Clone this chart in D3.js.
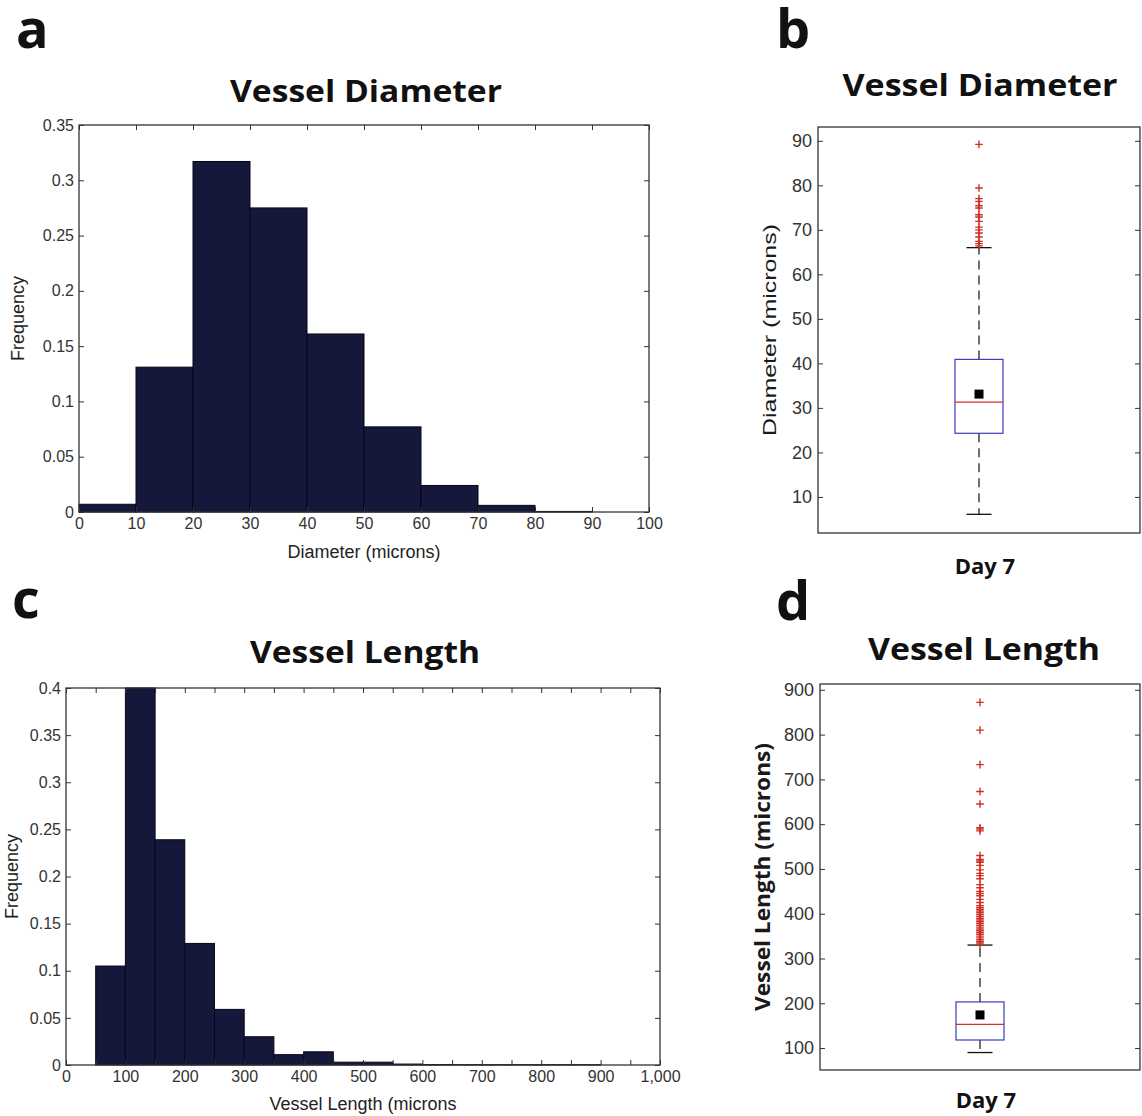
<!DOCTYPE html>
<html>
<head>
<meta charset="utf-8">
<script src="https://cdn.jsdelivr.net/npm/d3@7"></script>
<style>
  body { margin: 0; background: #fff; }
  svg { display: block; }
  text { font-family: "Liberation Sans", Arial, Helvetica, sans-serif; }
  .heavy { font-family: "Open Sans", "DejaVu Sans", sans-serif; font-weight: 700; }
</style>
</head>
<body>
<svg id="fig" width="1142" height="1116"></svg>
<script>
// ---- Vessel diameter histogram (bins of 10 microns) ----
const diameterBinEdges = [0, 10, 20, 30, 40, 50, 60, 70, 80, 90, 100];
const diameterFreq = [0.007, 0.131, 0.317, 0.275, 0.161, 0.077, 0.024, 0.006, 0.0005, 0];
const diameterXTicks = [0, 10, 20, 30, 40, 50, 60, 70, 80, 90, 100];
const diameterYTicks = [0, 0.05, 0.1, 0.15, 0.2, 0.25, 0.3, 0.35];

// ---- Vessel length histogram (bins of 50 microns) ----
const lengthBinEdges = [50, 100, 150, 200, 250, 300, 350, 400, 450, 500, 550, 600, 650, 700, 750, 800, 850, 900];
const lengthFreq = [0.105, 0.400, 0.239, 0.129, 0.059, 0.030, 0.011, 0.014, 0.003, 0.003, 0.001, 0.0005, 0.0003, 0.0003, 0.0003, 0.0003, 0.0003];
const lengthXTicks = d3.range(0, 1001, 50);
const lengthXLabels = [0, 100, 200, 300, 400, 500, 600, 700, 800, 900, 1000];
const lengthYTicks = [0, 0.05, 0.1, 0.15, 0.2, 0.25, 0.3, 0.35, 0.4];

// ---- Diameter box plot, Day 7: [lower whisker, Q1, median, Q3, upper whisker] ----
const diameterBox = [6.1, 24.3, 31.3, 40.9, 66.0];
const diameterMean = 33.1;
const diameterOutliers = [66.4, 66.9, 67.4, 68.4, 69.3, 70.0, 70.6, 71.9, 72.9, 73.4, 74.9, 75.4, 76.4, 77.0, 79.4, 89.2];
const diameterBoxTicks = [10, 20, 30, 40, 50, 60, 70, 80, 90];

// ---- Length box plot, Day 7 ----
const lengthBox = [90, 118, 153, 203, 330];
const lengthMean = 174;
const lengthOutliers = [332, 335, 338, 342, 346, 350, 354, 358, 362, 366, 370, 374, 378, 382, 386, 390,
  394, 398, 402, 406, 410, 414, 418, 425, 432, 440, 445, 450, 458, 465, 478, 485, 490, 498, 508,
  515, 518, 521, 530, 585, 589, 592, 645, 673, 733, 810, 872];
const lengthBoxTicks = [100, 200, 300, 400, 500, 600, 700, 800, 900];

const groupLabel = ["Day 7"];

const svg = d3.select("#fig");
svg.append("rect").attr("width", 1142).attr("height", 1116).attr("fill", "#fff");

const AXIS = "#333";
const BAR = "#15183b";
const TICK = 5;

function panelLetter(txt, x, y) {
  svg.append("text").attr("class", "heavy").attr("x", x).attr("y", y)
    .attr("font-size", 54).attr("fill", "#111").text(txt);
}
function title(txt, cx, y, w) {
  svg.append("text").attr("class", "heavy").attr("x", cx).attr("y", y)
    .attr("text-anchor", "middle").attr("font-size", 31).attr("fill", "#111")
    .attr("textLength", w).attr("lengthAdjust", "spacingAndGlyphs").text(txt);
}

function styleAxis(g, size) {
  g.select(".domain").remove();
  g.selectAll(".tick line").attr("stroke", AXIS).attr("stroke-width", 1);
  g.selectAll(".tick text").attr("fill", "#333").attr("font-size", size)
    .attr("font-family", "'Liberation Sans', Arial, sans-serif");
}

function frame(box) {
  svg.append("rect").attr("x", box.x0).attr("y", box.y0)
    .attr("width", box.x1 - box.x0).attr("height", box.y1 - box.y0)
    .attr("fill", "none").attr("stroke", AXIS).attr("stroke-width", 1.3);
}

function histogram(box, edges, freq, xDom, yDom, xTicks, xLabelSet, xFmt, yTicks, xLabel, yLabel, xLabelY, yLabelX) {
  const x = d3.scaleLinear().domain(xDom).range([box.x0, box.x1]);
  const y = d3.scaleLinear().domain(yDom).range([box.y1, box.y0]);
  const g = svg.append("g");
  const bins = freq.map((f, i) => ({ a: edges[i], b: edges[i + 1], f }));
  g.selectAll("rect").data(bins.filter(d => d.f > 0)).join("rect")
    .attr("x", d => x(d.a)).attr("width", d => x(d.b) - x(d.a))
    .attr("y", d => y(Math.min(d.f, yDom[1]))).attr("height", d => y(0) - y(Math.min(d.f, yDom[1])))
    .attr("fill", BAR).attr("stroke", "#07071a").attr("stroke-width", 1);

  const lbl = v => xLabelSet.includes(v) ? xFmt(v) : "";
  const yFmt = v => String(+v.toFixed(2));
  const bx = svg.append("g").attr("transform", `translate(0,${box.y1})`)
    .call(d3.axisBottom(x).tickValues(xTicks).tickFormat(lbl).tickSizeInner(-TICK).tickSizeOuter(0).tickPadding(6));
  styleAxis(bx, 16);
  const tx = svg.append("g").attr("transform", `translate(0,${box.y0})`)
    .call(d3.axisTop(x).tickValues(xTicks).tickFormat("").tickSizeInner(-TICK).tickSizeOuter(0));
  styleAxis(tx, 16);
  const ly = svg.append("g").attr("transform", `translate(${box.x0},0)`)
    .call(d3.axisLeft(y).tickValues(yTicks).tickFormat(yFmt).tickSizeInner(-TICK).tickSizeOuter(0).tickPadding(5));
  styleAxis(ly, 16);
  const ry = svg.append("g").attr("transform", `translate(${box.x1},0)`)
    .call(d3.axisRight(y).tickValues(yTicks).tickFormat("").tickSizeInner(-TICK).tickSizeOuter(0));
  styleAxis(ry, 16);
  frame(box);

  svg.append("text").attr("x", (box.x0 + box.x1) / 2).attr("y", xLabelY)
    .attr("text-anchor", "middle").attr("font-size", 18).attr("fill", "#222").text(xLabel);
  svg.append("text").attr("transform", `translate(${yLabelX},${(box.y0 + box.y1) / 2}) rotate(-90)`)
    .attr("text-anchor", "middle").attr("font-size", 18).attr("fill", "#222").text(yLabel);
}

function boxplot(box, yDom, stats, mean, outliers, yTicks, yLabel, yLabelOpts, catY) {
  const y = d3.scaleLinear().domain(yDom).range([box.y1, box.y0]);
  const xc = d3.scaleBand().domain(groupLabel).range([box.x0, box.x1]);
  const cx = xc(groupLabel[0]) + xc.bandwidth() / 2;
  const half = 24, cap = 12.5;
  const [lo, q1, med, q3, hi] = stats;
  const g = svg.append("g");

  // whiskers
  g.append("line").attr("x1", cx).attr("x2", cx).attr("y1", y(q3)).attr("y2", y(hi))
    .attr("stroke", "#111").attr("stroke-width", 1.2).attr("stroke-dasharray", "9,6");
  g.append("line").attr("x1", cx).attr("x2", cx).attr("y1", y(q1)).attr("y2", y(lo))
    .attr("stroke", "#111").attr("stroke-width", 1.2).attr("stroke-dasharray", "9,6");
  [lo, hi].forEach(v => g.append("line").attr("x1", cx - cap).attr("x2", cx + cap)
    .attr("y1", y(v)).attr("y2", y(v)).attr("stroke", "#111").attr("stroke-width", 1.3));
  // box and median
  g.append("rect").attr("x", cx - half).attr("width", 2 * half)
    .attr("y", y(q3)).attr("height", y(q1) - y(q3))
    .attr("fill", "none").attr("stroke", "#3b3bc4").attr("stroke-width", 1.2);
  g.append("line").attr("x1", cx - half).attr("x2", cx + half).attr("y1", y(med)).attr("y2", y(med))
    .attr("stroke", "#d2332a").attr("stroke-width", 1.2);
  // outliers
  const s = 3.8;
  g.selectAll("path.out").data(outliers).join("path").attr("class", "out")
    .attr("d", v => `M${cx - s},${y(v)}H${cx + s}M${cx},${y(v) - s}V${y(v) + s}`)
    .attr("stroke", "#cf2f22").attr("stroke-width", 1.4).attr("fill", "none");
  // mean marker
  g.append("rect").attr("x", cx - 4.5).attr("y", y(mean) - 4.5).attr("width", 9).attr("height", 9).attr("fill", "#000");

  const ly = svg.append("g").attr("transform", `translate(${box.x0},0)`)
    .call(d3.axisLeft(y).tickValues(yTicks).tickSizeInner(-TICK).tickSizeOuter(0).tickPadding(6));
  styleAxis(ly, 18);
  const ry = svg.append("g").attr("transform", `translate(${box.x1},0)`)
    .call(d3.axisRight(y).tickValues(yTicks).tickFormat("").tickSizeInner(-TICK).tickSizeOuter(0));
  styleAxis(ry, 18);
  frame(box);

  const t = svg.append("text").attr("transform", `translate(${yLabelOpts.x},${(box.y0 + box.y1) / 2}) rotate(-90)`)
    .attr("text-anchor", "middle").attr("font-size", yLabelOpts.size).attr("fill", "#1a1a1a").text(yLabel);
  if (yLabelOpts.bold) t.attr("class", "heavy");
  if (yLabelOpts.w) t.attr("textLength", yLabelOpts.w).attr("lengthAdjust", "spacingAndGlyphs");

  svg.append("text").attr("class", "heavy").attr("x", cx + 6).attr("y", catY)
    .attr("text-anchor", "middle").attr("font-size", 22).attr("fill", "#111").text(groupLabel[0]);
}

// Panel a
panelLetter("a", 16, 48);
title("Vessel Diameter", 366, 102, 272);
histogram({ x0: 79, x1: 649, y0: 125, y1: 512 }, diameterBinEdges, diameterFreq, [0, 100], [0, 0.35],
  diameterXTicks, diameterXTicks, v => String(v), diameterYTicks,
  "Diameter (microns)", "Frequency", 558, 24);

// Panel b
panelLetter("b", 776, 48);
title("Vessel Diameter", 980, 96, 275);
boxplot({ x0: 818, x1: 1140, y0: 127, y1: 533 }, [1.9, 93.1], diameterBox, diameterMean, diameterOutliers,
  diameterBoxTicks, "Diameter (microns)", { x: 776, size: 19, w: 212 }, 574);

// Panel c
panelLetter("c", 12, 618);
title("Vessel Length", 365, 663, 230);
histogram({ x0: 66, x1: 660, y0: 688, y1: 1065 }, lengthBinEdges, lengthFreq, [0, 1000], [0, 0.4],
  lengthXTicks, lengthXLabels, d3.format(","), lengthYTicks,
  "Vessel Length (microns", "Frequency", 1110, 18);

// Panel d
panelLetter("d", 776, 620);
title("Vessel Length", 984, 660, 232);
boxplot({ x0: 820, x1: 1140, y0: 684, y1: 1070 }, [51, 913], lengthBox, lengthMean, lengthOutliers,
  lengthBoxTicks, "Vessel Length (microns)", { x: 770, size: 22, bold: true, w: 268 }, 1108);
</script>
</body>
</html>
